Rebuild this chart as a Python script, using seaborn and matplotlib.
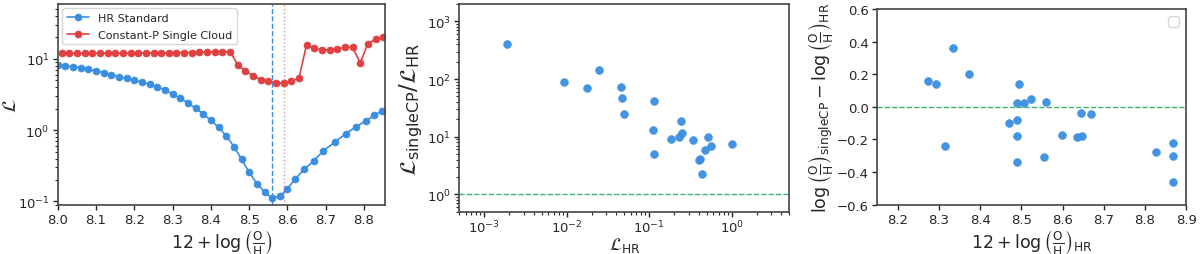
import numpy as np
import pandas as pd
import matplotlib
matplotlib.use("Agg")
import matplotlib.pyplot as plt
import seaborn as sns

sns.set_style("ticks")
plt.rcParams['font.family'] = ['DejaVu Sans']
plt.rcParams['mathtext.fontset'] = 'dejavusans'

# ---------------- data ----------------
# Left panel: likelihood vs metallicity
hr_x = [8.00, 8.02, 8.04, 8.06, 8.08, 8.10, 8.12, 8.14, 8.16, 8.18,
        8.20, 8.22, 8.24, 8.26, 8.28, 8.30, 8.32, 8.34, 8.36, 8.38,
        8.40, 8.42, 8.44, 8.46, 8.48, 8.50, 8.52, 8.54, 8.56,
        8.580, 8.599, 8.620, 8.644, 8.669, 8.694, 8.725, 8.752, 8.779,
        8.804, 8.827, 8.848]
hr_L = [8.24, 7.97, 7.80, 7.55, 7.16, 6.78, 6.43, 6.03, 5.65, 5.35,
        5.01, 4.70, 4.41, 4.09, 3.67, 3.19, 2.80, 2.41, 2.03, 1.69,
        1.37, 1.10, 0.83, 0.59, 0.39, 0.256, 0.178, 0.136, 0.111,
        0.120, 0.148, 0.207, 0.283, 0.373, 0.515, 0.689, 0.893, 1.11,
        1.35, 1.62, 1.88]

cp_x = [8.01, 8.03, 8.05, 8.07, 8.09, 8.11, 8.13, 8.15, 8.17, 8.19,
        8.21, 8.23, 8.25, 8.27, 8.29, 8.31, 8.33, 8.35, 8.37, 8.39,
        8.41, 8.43, 8.45, 8.47, 8.49, 8.51, 8.53, 8.55, 8.57, 8.59,
        8.61, 8.63, 8.65, 8.67, 8.69, 8.71, 8.73, 8.75, 8.77, 8.79,
        8.81, 8.83, 8.85]
cp_L = [12.0, 12.0, 12.0, 12.0, 12.0, 12.0, 12.0, 12.0, 12.0, 12.1,
        12.1, 12.1, 12.1, 12.2, 12.2, 12.2, 12.3, 12.3, 12.4, 12.4,
        12.5, 12.5, 12.7, 8.3, 6.78, 5.82, 5.12, 4.91, 4.60, 4.56,
        4.87, 5.41, 15.9, 14.1, 13.4, 13.4, 13.8, 14.6, 14.6, 8.79,
        16.4, 18.9, 20.2]

best_hr = 8.56
best_cp = 8.59

# Middle panel: likelihood ratio
L_hr = [0.00188, 0.00916, 0.0175, 0.0249, 0.046, 0.0469, 0.0495, 0.1135,
        0.111, 0.1156, 0.244, 0.251, 0.228, 0.182, 0.341, 0.519, 0.558,
        0.472, 0.415, 0.396, 0.439, 1.0]
L_ratio = [404, 89, 69.5, 145, 74, 46.6, 24.6, 40.8,
           13.3, 5.02, 18.4, 11.6, 9.8, 9.2, 8.6, 9.8, 7.03,
           5.9, 4.02, 3.95, 2.26, 7.6]

# Right panel: metallicity difference
oh_hr = [8.272, 8.293, 8.314, 8.334, 8.373, 8.471, 8.489, 8.489, 8.489,
         8.489, 8.493, 8.507, 8.523, 8.560, 8.555, 8.599, 8.634, 8.646,
         8.645, 8.670, 8.826, 8.869, 8.869, 8.869]
oh_diff = [0.160, 0.139, -0.243, 0.360, 0.200, -0.102, -0.078, 0.022, -0.178,
           -0.339, 0.139, 0.022, 0.047, 0.031, -0.307, -0.170, -0.186, -0.178,
           -0.035, -0.041, -0.278, -0.223, -0.303, -0.462]

BLUE = '#3a8ee0'
RED = '#e04040'
GREEN = '#3cb371'

fig = plt.figure(figsize=(12, 2.55), dpi=100)
ax1 = fig.add_axes([0.0482, 0.1933, 0.2727, 0.787])
ax2 = fig.add_axes([0.3828, 0.1659, 0.2750, 0.8145])
ax3 = fig.add_axes([0.7311, 0.1933, 0.2573, 0.7675])

# ---------------- left ----------------
df_hr = pd.DataFrame({'x': hr_x, 'L': hr_L})
df_cp = pd.DataFrame({'x': cp_x, 'L': cp_L})
sns.lineplot(data=df_hr, x='x', y='L', ax=ax1, color=BLUE, marker='o',
             markersize=5, markeredgecolor=BLUE, markeredgewidth=0.5,
             linewidth=1.2, label='HR Standard')
sns.lineplot(data=df_cp, x='x', y='L', ax=ax1, color=RED, marker='o',
             markersize=5, markeredgecolor=RED, markeredgewidth=0.5,
             linewidth=1.2, label='Constant-P Single Cloud')
ax1.axvline(best_hr, color=BLUE, linestyle='--', linewidth=1)
ax1.axvline(best_cp, color=RED, linestyle=':', linewidth=1, alpha=0.6)
ax1.set_yscale('log')
ax1.set_xlim(8.0, 8.855)
ax1.set_ylim(0.09, 59)
ax1.set_xticks([8.0, 8.1, 8.2, 8.3, 8.4, 8.5, 8.6, 8.7, 8.8])
ax1.set_xlabel(r'$12 + \log\left(\frac{\mathrm{O}}{\mathrm{H}}\right)$', fontsize=12.5, labelpad=1)
ax1.set_ylabel(r'$\mathcal{L}$', fontsize=14)
ax1.yaxis.set_label_coords(-0.115, 0.5)
ax1.legend(loc='upper left', fontsize=8, frameon=True, borderaxespad=0.4,
           labelspacing=0.6)

# ---------------- middle ----------------
sns.scatterplot(x=L_hr, y=L_ratio, ax=ax2, color=BLUE, s=32,
                edgecolor=BLUE, linewidth=0.4, alpha=0.95)
ax2.axhline(1.0, color=GREEN, linestyle='--', linewidth=1)
ax2.set_xscale('log')
ax2.set_yscale('log')
ax2.set_xlim(5e-4, 5)
ax2.set_ylim(0.5, 2000)
ax2.set_xlabel(r'$\mathcal{L}_{\mathrm{HR}}$', fontsize=12.5, labelpad=0)
ax2.set_ylabel(r'$\mathcal{L}_{\mathrm{singleCP}}/\mathcal{L}_{\mathrm{HR}}$', fontsize=16.5, labelpad=1)

# ---------------- right ----------------
sns.scatterplot(x=oh_hr, y=oh_diff, ax=ax3, color=BLUE, s=32,
                edgecolor=BLUE, linewidth=0.4, alpha=0.95)
ax3.axhline(0.0, color=GREEN, linestyle='--', linewidth=1)
ax3.set_xlim(8.15, 8.9)
ax3.set_ylim(-0.6, 0.6)
ax3.set_xticks([8.2, 8.3, 8.4, 8.5, 8.6, 8.7, 8.8, 8.9])
ax3.set_yticks([-0.6, -0.4, -0.2, 0.0, 0.2, 0.4, 0.6])
ax3.set_xlabel(r'$12 + \log\left(\frac{\mathrm{O}}{\mathrm{H}}\right)_{\mathrm{HR}}$', fontsize=12.5, labelpad=1)
ax3.set_ylabel(r'$\log\left(\frac{\mathrm{O}}{\mathrm{H}}\right)_{\mathrm{singleCP}} - \log\left(\frac{\mathrm{O}}{\mathrm{H}}\right)_{\mathrm{HR}}$',
               fontsize=12.5, labelpad=1)
ax3.legend(handles=[], loc='upper right')

for ax in (ax1, ax2, ax3):
    ax.tick_params(labelsize=9.5, width=1, length=3.5, pad=2.5)
    ax.tick_params(which='minor', width=0.8, length=2)
    for sp in ax.spines.values():
        sp.set_visible(True)
        sp.set_color('#444444')
        sp.set_linewidth(1.2)
ax2.tick_params(axis='x', pad=1.5)

fig.savefig('out.png', dpi=100)
